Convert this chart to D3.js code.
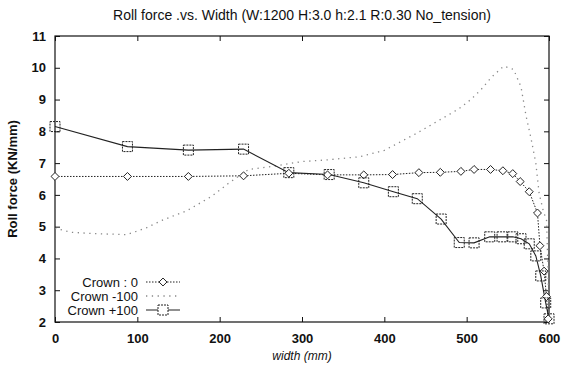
<!DOCTYPE html>
<html>
<head>
<meta charset="utf-8">
<script src="https://cdn.jsdelivr.net/npm/d3@7"></script>
<style>
  body { margin: 0; background: #fff; }
  svg text { font-family: "Liberation Sans", Arial, sans-serif; fill: #111; }
</style>
</head>
<body>
<div id="chart"></div>
<script>
// Crown : 0 (diamonds)
var crown0X = [0, 88, 162, 229, 284, 331, 375, 410, 442, 468, 493, 509, 529, 544, 556, 565, 576, 586, 589, 594, 597, 599];
var crown0Y = [6.58, 6.58, 6.58, 6.6, 6.68, 6.63, 6.63, 6.64, 6.7, 6.71, 6.74, 6.8, 6.8, 6.76, 6.67, 6.42, 6.1, 5.43, 4.4, 3.6, 2.8, 2.1];
// Crown -100 (no markers)
var crownM100X = [0, 20, 50, 87, 110, 130, 160, 190, 210, 235, 265, 300, 330, 370, 400, 440, 470, 490, 505, 517, 530, 545, 557, 566, 572, 578, 584, 588, 593, 597, 599, 600];
var crownM100Y = [4.95, 4.82, 4.78, 4.75, 4.95, 5.2, 5.5, 5.95, 6.35, 6.8, 6.9, 7.05, 7.1, 7.2, 7.4, 7.95, 8.4, 8.7, 9.0, 9.3, 9.7, 10.05, 9.95, 9.4, 8.5, 7.8, 7.0, 6.05, 5.5, 5.2, 3.5, 2.1];
// Crown +100 (squares)
var crownP100X = [0, 88, 162, 229, 284, 333, 375, 411, 440, 469, 491, 509, 528, 543, 556, 566, 576, 584, 590, 596, 600];
var crownP100Y = [8.15, 7.52, 7.41, 7.44, 6.7, 6.64, 6.38, 6.1, 5.88, 5.24, 4.5, 4.49, 4.68, 4.68, 4.68, 4.62, 4.46, 4.08, 3.45, 2.6, 2.1];

var xTicks = [0, 100, 200, 300, 400, 500, 600];
var yTicks = [2, 3, 4, 5, 6, 7, 8, 9, 10, 11];
var legendNames = ["Crown : 0", "Crown -100", "Crown +100"];

var width = 574, height = 366;
var margin = { top: 36, right: 25, bottom: 44, left: 55 };
var w = width - margin.left - margin.right,
    h = height - margin.top - margin.bottom;

var svg = d3.select("#chart").append("svg")
  .attr("width", width)
  .attr("height", height);

var g = svg.append("g")
  .attr("transform", "translate(" + margin.left + "," + margin.top + ")");

var x = d3.scaleLinear().domain([0, 600]).range([0, w]);
var y = d3.scaleLinear().domain([2, 11]).range([h, 0]);

// frame
g.append("rect")
  .attr("width", w).attr("height", h)
  .attr("fill", "none").attr("stroke", "#111").attr("stroke-width", 1.2);

// axes with inward ticks
var xAxis = g.append("g").attr("transform", "translate(0," + h + ")")
  .call(d3.axisBottom(x).tickValues(xTicks).tickSizeInner(-5).tickSizeOuter(0).tickPadding(12));
var yAxis = g.append("g")
  .call(d3.axisLeft(y).tickValues(yTicks).tickSizeInner(-5).tickSizeOuter(0).tickPadding(9));
g.append("g").call(d3.axisTop(x).tickValues(xTicks).tickSizeInner(-5).tickSizeOuter(0).tickFormat(""));
g.append("g").attr("transform", "translate(" + w + ",0)")
  .call(d3.axisRight(y).tickValues(yTicks).tickSizeInner(-5).tickSizeOuter(0).tickFormat(""));

g.selectAll(".domain").remove();
g.selectAll(".tick line").attr("stroke", "#111");
xAxis.selectAll("text").style("font-size", "13px").style("font-weight", "bold").attr("fill", "#111");
yAxis.selectAll("text").style("font-size", "13px").style("font-weight", "bold").attr("fill", "#111");

// titles
svg.append("text")
  .attr("x", margin.left + w / 2).attr("y", 20)
  .attr("text-anchor", "middle")
  .style("font-size", "14px")
  .text("Roll force .vs. Width (W:1200 H:3.0 h:2.1 R:0.30 No_tension)");

svg.append("text")
  .attr("transform", "translate(17," + (margin.top + h / 2) + ") rotate(-90)")
  .attr("text-anchor", "middle")
  .style("font-size", "13px").style("font-weight", "bold")
  .text("Roll force (KN/mm)");

svg.append("text")
  .attr("x", margin.left + w / 2).attr("y", 360)
  .attr("text-anchor", "middle")
  .style("font-size", "12px").style("font-style", "italic")
  .text("width (mm)");

var line = d3.line().x(function (d) { return x(d[0]); }).y(function (d) { return y(d[1]); });

var d0 = d3.zip(crown0X, crown0Y),
    dm = d3.zip(crownM100X, crownM100Y),
    dp = d3.zip(crownP100X, crownP100Y);

var plot = g.append("g");

plot.append("path").datum(dm).attr("d", line)
  .attr("fill", "none").attr("stroke", "#888").attr("stroke-width", 1.3)
  .attr("stroke-dasharray", "1.3,4.5");

plot.append("path").datum(d0).attr("d", line)
  .attr("fill", "none").attr("stroke", "#222").attr("stroke-width", 1)
  .attr("stroke-dasharray", "1.5,1.5");

plot.append("path").datum(dp).attr("d", line)
  .attr("fill", "none").attr("stroke", "#222").attr("stroke-width", 1.1);

var diamond = d3.symbol().type(d3.symbolDiamond2).size(40);
plot.selectAll(".dia").data(d0).enter().append("path")
  .attr("transform", function (d) { return "translate(" + x(d[0]) + "," + y(d[1]) + ")"; })
  .attr("d", diamond)
  .attr("fill", "#fff").attr("stroke", "#222").attr("stroke-width", 1);

plot.selectAll(".sq").data(dp).enter().append("rect")
  .attr("x", function (d) { return x(d[0]) - 5; })
  .attr("y", function (d) { return y(d[1]) - 5; })
  .attr("width", 10).attr("height", 10)
  .attr("fill", "none").attr("stroke", "#222").attr("stroke-width", 1)
  .attr("stroke-dasharray", "2,1");

// legend
var legend = svg.append("g");
var legY = [282, 296, 310];
legendNames.forEach(function (name, i) {
  legend.append("text")
    .attr("x", 138).attr("y", legY[i] + 4.5)
    .attr("text-anchor", "end")
    .style("font-size", "13px")
    .text(name);
  var ln = legend.append("line")
    .attr("x1", 146).attr("x2", 180).attr("y1", legY[i]).attr("y2", legY[i])
    .attr("stroke-width", 1);
  if (i === 0) {
    ln.attr("stroke", "#222").attr("stroke-dasharray", "1.5,1.5");
    legend.append("path").attr("transform", "translate(163," + legY[i] + ")")
      .attr("d", diamond).attr("fill", "#fff").attr("stroke", "#222");
  } else if (i === 1) {
    ln.attr("stroke", "#888").attr("stroke-width", 1.3).attr("stroke-dasharray", "1.3,4.5");
  } else {
    ln.attr("stroke", "#222").attr("stroke-width", 1.1);
    legend.append("rect").attr("x", 158).attr("y", legY[i] - 5)
      .attr("width", 10).attr("height", 10)
      .attr("fill", "#fff").attr("stroke", "#222").attr("stroke-dasharray", "2,1");
  }
});
</script>
</body>
</html>
